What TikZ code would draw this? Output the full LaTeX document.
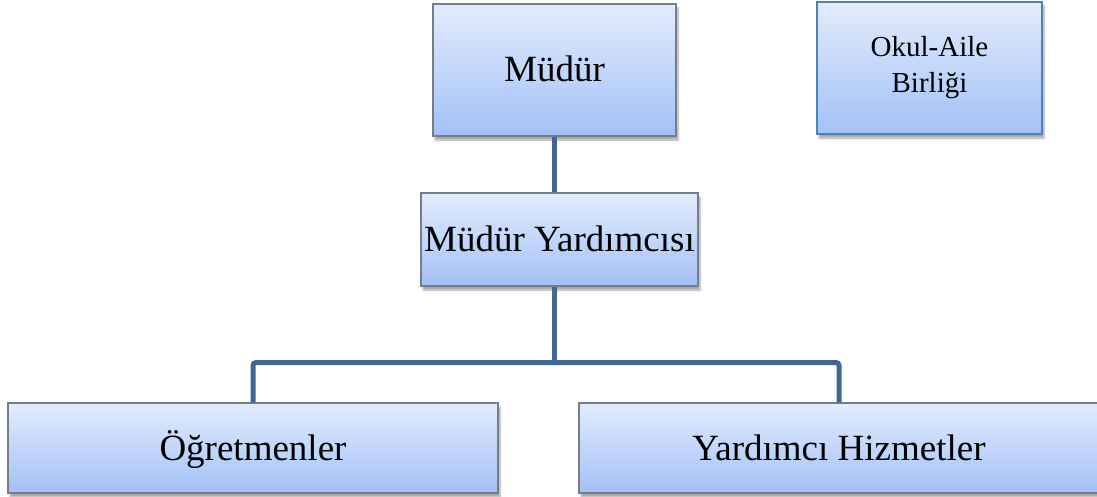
\documentclass[tikz,border=0pt]{standalone}
\usepackage{fontspec}
\setmainfont{Liberation Serif}
\usetikzlibrary{shadows.blur}
\definecolor{boxtop}{RGB}{226,236,253}
\definecolor{boxbot}{RGB}{162,193,247}
\definecolor{grayedge}{RGB}{120,124,132}
\definecolor{blueedge}{RGB}{79,129,189}
\definecolor{linkcol}{RGB}{63,102,150}
\tikzset{
  orgbox/.style={draw=grayedge, line width=1.2pt, top color=boxtop, bottom color=boxbot,
    inner sep=0pt, align=center, font=\fontsize{37}{40}\selectfont,
    text height=24pt, text depth=0pt,
    blur shadow={shadow xshift=2pt, shadow yshift=-4pt, shadow blur steps=6, shadow opacity=35}},
  sidebox/.style={draw=blueedge, line width=2pt, top color=boxtop, bottom color=boxbot,
    inner sep=0pt, align=center, font=\fontsize{29}{36}\selectfont,
    blur shadow={shadow xshift=2pt, shadow yshift=-4pt, shadow blur steps=6, shadow opacity=35}},
  link/.style={draw=linkcol, line width=5pt, rounded corners=3pt}
}
\begin{document}
\begin{tikzpicture}[x=1pt,y=-1pt]
\useasboundingbox (0,0) rectangle (1097,497);
\node[orgbox, minimum width=243pt, minimum height=132pt] (mudur) at (554.5,70) {Müdür};
\node[sidebox, minimum width=225pt, minimum height=132pt] (okul) at (929.5,68) {Okul-Aile\\Birliği};
\node[orgbox, minimum width=277pt, minimum height=93pt] (yard) at (559.5,239.5) {Müdür Yardımcısı};
\node[orgbox, minimum width=490pt, minimum height=90pt] (ogr) at (253,448) {Öğretmenler};
\node[orgbox, minimum width=520pt, minimum height=90pt] (yh) at (839,448) {Yardımcı Hizmetler};
\coordinate (j) at (554.5,362.5);
\draw[link] (mudur.south) -- (mudur.south |- yard.north);
\draw[link] (j |- yard.south) -- (j);
\draw[link] (ogr.north) |- (j) -| (yh.north);
\end{tikzpicture}
\end{document}
